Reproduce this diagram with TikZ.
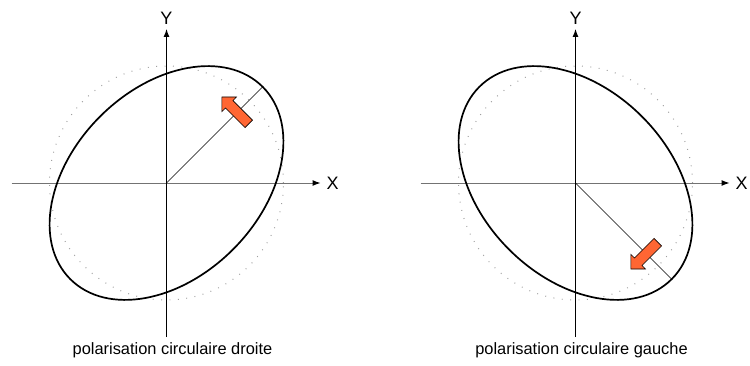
\documentclass[tikz,border=0pt]{standalone}
\usepackage{fontspec}
\setmainfont{Liberation Sans}
\usetikzlibrary{arrows.meta,shapes.arrows}
\definecolor{flecheorange}{RGB}{255,102,51}

\begin{document}
\begin{tikzpicture}[
  x=1pt, y=1pt,
  axex/.style={black!55, line width=1pt, -{Latex[length=8pt,width=6pt,black]}},
  axey/.style={line width=1pt, -{Latex[length=8pt,width=6pt]}},
  trajectoire/.style={line width=1.7pt},
  cercle/.style={gray!75, line width=1pt, dash pattern=on 0.9pt off 7.5pt},
  rayon/.style={line width=0.6pt},
  sens/.style={single arrow, draw, fill=flecheorange, line width=0.6pt,
    inner sep=5pt, minimum height=38pt,
    single arrow head extend=5pt, single arrow head indent=0pt},
  legende/.style={font=\fontsize{16.4}{19}\selectfont},
  etiquette/.style={font=\fontsize{18}{21}\selectfont, inner sep=1pt}
]
\useasboundingbox (0,0) rectangle (750,365);
\foreach \k/\cx/\ang/\dir/\txt in {d/166.5/45/135/droite, g/575.5/-45/225/gauche}{
  \begin{scope}[shift={(\cx,182)}]
    \coordinate (O\k) at (0,0);
    \coordinate (xa\k) at (-155,0);
    \coordinate (xb\k) at (154,0);
    \coordinate (ya\k) at (0,-154);
    \coordinate (yb\k) at (0,154);
    \coordinate (P\k) at (\ang:136);
    % cercle de reference
    \draw[cercle] (O\k) circle (117);
    % axes
    \draw[axex] (xa\k) -- (xb\k);
    \draw[axey] (ya\k) -- (yb\k);
    \node[etiquette, right=5pt] (X\k) at (xb\k) {X};
    \node[etiquette, above=3pt] (Y\k) at (yb\k) {Y};
    % ellipse
    \draw[trajectoire, rotate=\ang] (O\k) ellipse (136 and 94);
    \draw[rayon] (O\k) -- (P\k);
    \node[sens, rotate=\dir] (F\k) at (\ang:100) {};
    \node[legende] (L\k) at (6,-167) {polarisation circulaire \txt};
  \end{scope}
}
\end{tikzpicture}
\end{document}
